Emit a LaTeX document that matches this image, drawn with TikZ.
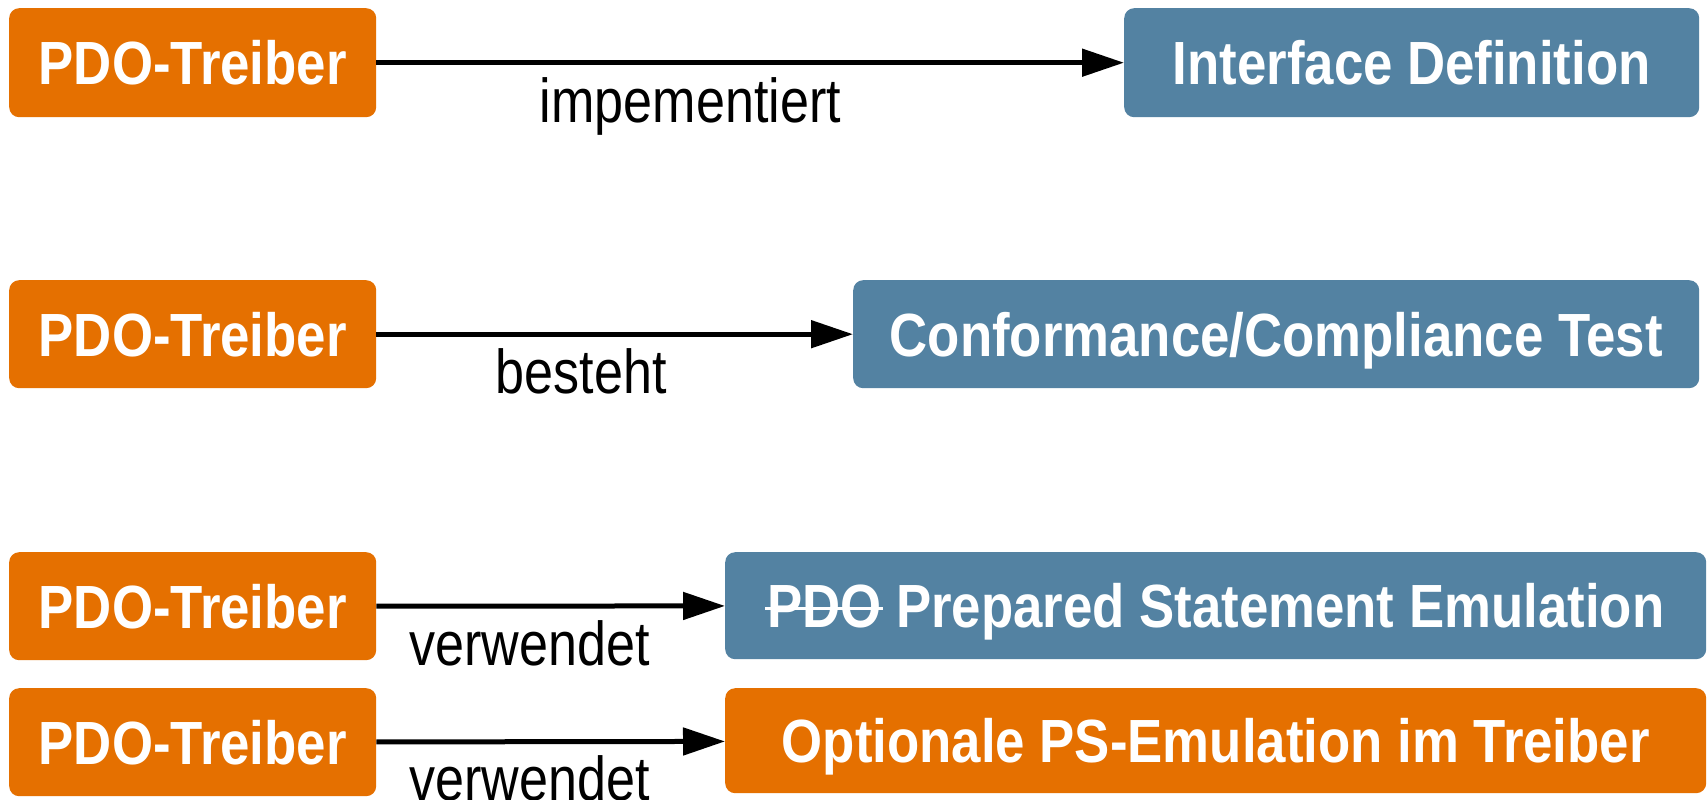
\documentclass[tikz,border=0pt]{standalone}
\usepackage{fontspec}
\setmainfont[FakeStretch=0.84]{Liberation Sans}
\newfontfamily\boxfont[FakeStretch=0.865]{Liberation Sans Bold}
\usetikzlibrary{arrows.meta}
\definecolor{boxorange}{RGB}{229,112,0}
\definecolor{boxblue}{RGB}{83,130,162}
\newcommand\strikeword[1]{\leavevmode\setbox0\hbox{#1}\rlap{\kern-2pt\raisebox{0.42\ht0}{\rule{\dimexpr\wd0+4pt\relax}{3pt}}}\copy0}
\tikzset{
  box/.style={anchor=north west, rounded corners=10pt, inner sep=0pt,
    text=white, font=\fontsize{61}{70}\selectfont\boxfont,
    text height=44pt, text depth=0pt},
  obox/.style={box, fill=boxorange},
  bbox/.style={box, fill=boxblue},
  arr/.style={line width=5pt, -{Triangle[length=42pt,width=27pt]}},
  lab/.style={anchor=north, inner sep=0pt, yshift=-12pt,
    font=\fontsize{62}{70}\selectfont}
}
\begin{document}
\begin{tikzpicture}[x=1pt,y=-1pt]
\fill[white] (0,0) rectangle (1708,800);
\useasboundingbox (0,0) rectangle (1708,800);
\node[obox, minimum width=367pt, minimum height=109pt] (a1) at (9,8) {PDO-Treiber};
\node[bbox, minimum width=575pt, minimum height=109pt] (b1) at (1124,8) {Interface Definition};
\node[obox, minimum width=367pt, minimum height=108pt] (a2) at (9,280) {PDO-Treiber};
\node[bbox, minimum width=846pt, minimum height=108pt] (b2) at (853,280) {Conformance/Compliance Test};
\node[obox, minimum width=367pt, minimum height=108pt] (a3) at (9,552) {PDO-Treiber};
\node[bbox, minimum width=981pt, minimum height=107pt] (b3) at (725,552) {\strikeword{PDO}\ Prepared Statement Emulation};
\node[obox, minimum width=367pt, minimum height=108pt] (a4) at (9,688) {PDO-Treiber};
\node[obox, minimum width=981pt, minimum height=105pt] (b4) at (725,688) {Optionale PS-Emulation im Treiber};
\draw[arr] (a1) -- (b1) node[lab, pos=0.42] (l1) {impementiert};
\draw[arr] (a2) -- (b2) node[lab, pos=0.43] (l2) {besteht};
\draw[arr] (a3) -- (b3) node[lab, pos=0.44] (l3) {verwendet};
\draw[arr] (a4) -- (b4) node[lab, pos=0.44, yshift=1pt] (l4) {verwendet};
\end{tikzpicture}
\end{document}
